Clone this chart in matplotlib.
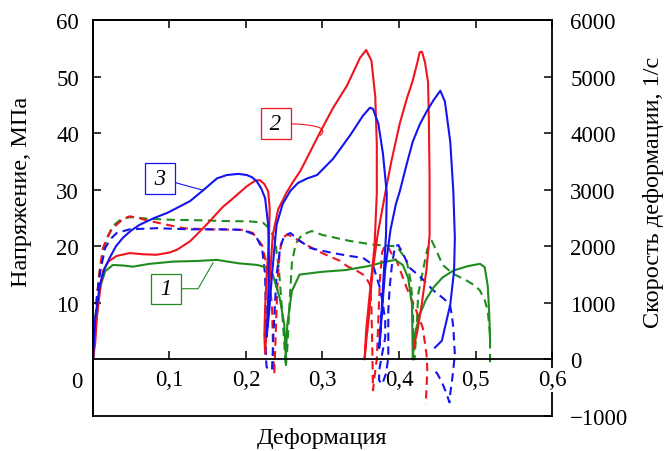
import matplotlib
matplotlib.use("Agg")
import matplotlib.pyplot as plt

# strain (x) and stress, MPa (left axis) / strain rate, 1/s (right axis)
green_eps = [0, 0.003, 0.009, 0.016, 0.026, 0.04, 0.052, 0.074, 0.105, 0.135, 0.162, 0.19, 0.215,
             0.228, 0.235, 0.244, 0.25, 0.252, 0.254, 0.26, 0.27, 0.3, 0.33, 0.36, 0.38, 0.395,
             0.405, 0.412, 0.417, 0.418, 0.42, 0.427, 0.435, 0.445, 0.457, 0.471, 0.49, 0.506,
             0.512, 0.516, 0.518, 0.519]
green_sig = [0, 5, 12.7, 15.6, 16.7, 16.6, 16.4, 16.9, 17.3, 17.4, 17.6, 17.0, 16.7,
             16.2, 15, 10.9, 6.2, 0.3, 6.2, 12.1, 15, 15.5, 15.8, 16.5, 17.2, 17.6,
             16.7, 14.4, 9.7, 0, 4, 7.9, 10.5, 12.7, 14.5, 15.7, 16.5, 16.9,
             16.3, 13, 8, 3.5]
green_rate_eps = [0, 0.003, 0.008, 0.015, 0.025, 0.037, 0.048, 0.07, 0.1, 0.14, 0.175, 0.205, 0.222,
                  0.232, 0.238, 0.243, 0.247, 0.25, 0.252, 0.254, 0.257, 0.26, 0.265, 0.273, 0.286,
                  0.3, 0.336, 0.366, 0.385, 0.397, 0.405, 0.41, 0.415, 0.418, 0.419, 0.42, 0.423,
                  0.425, 0.432, 0.437, 0.443, 0.448, 0.457, 0.47, 0.489, 0.5, 0.506, 0.512, 0.516,
                  0.519, 0.519, 0.519]
green_rate = [0, 700, 1500, 2000, 2350, 2480, 2516, 2490, 2470, 2460, 2446, 2440, 2420,
              2300, 2100, 1600, 900, 300, -140, 200, 1000, 1700, 2050, 2200, 2270,
              2200, 2094, 2030, 2010, 2000, 1850, 1742, 1400, 1000, 300, 0, 500,
              1144, 1619, 1950, 2094, 1950, 1672, 1520, 1390, 1300, 1214, 1050, 862,
              440, 0, -140]

red_eps = [0, 0.003, 0.005, 0.009, 0.013, 0.02, 0.031, 0.048, 0.065, 0.083, 0.1, 0.11, 0.127,
           0.144, 0.153, 0.17, 0.179, 0.19, 0.201, 0.212, 0.218, 0.224, 0.229, 0.231, 0.23,
           0.227, 0.225, 0.224, 0.225, 0.229, 0.235, 0.242, 0.253, 0.262, 0.271, 0.285, 0.297,
           0.314, 0.332, 0.349, 0.357, 0.364, 0.369, 0.371, 0.371, 0.368, 0.362, 0.357, 0.355,
           0.357, 0.361, 0.365, 0.372, 0.382, 0.39, 0.401, 0.41, 0.418, 0.424, 0.427, 0.43,
           0.434, 0.438, 0.439, 0.44, 0.44, 0.436, 0.43, 0.424, 0.419]
red_sig = [0, 3, 7.4, 12, 15.6, 17.3, 18.3, 18.8, 18.6, 18.5, 18.9, 19.4, 20.9,
           23.2, 24.5, 27, 28, 29.3, 30.6, 31.6, 31.7, 31.0, 29.7, 26.7, 21,
           15, 9.1, 4.4, 1, 10, 22, 26.5, 29.5, 31.5, 33.3, 37, 40.2,
           44.5, 48.4, 53.3, 54.7, 52.8, 46.4, 38, 29.4, 20, 12, 5, 0,
           3, 8, 15, 22, 29.4, 35, 41.7, 46, 49.3, 52.5, 54.3, 54.4,
           52.5, 49, 42.6, 32, 22, 16, 10, 5, 2]
red_rate_eps = [0, 0.003, 0.005, 0.009, 0.013, 0.02, 0.026, 0.039, 0.048, 0.06, 0.07, 0.097, 0.118,
                0.149, 0.175, 0.196, 0.209, 0.221, 0.227, 0.231, 0.234, 0.235, 0.236, 0.237, 0.239,
                0.241, 0.244, 0.248, 0.254, 0.262, 0.27, 0.293, 0.323, 0.332, 0.345, 0.353, 0.358,
                0.362, 0.364, 0.365, 0.366, 0.368, 0.371, 0.373, 0.375, 0.378, 0.382, 0.386, 0.391,
                0.397, 0.41, 0.421, 0.431, 0.436, 0.437, 0.435]
red_rate = [0, 500, 1090, 1600, 1970, 2200, 2320, 2480, 2530, 2500, 2460, 2380, 2320,
            2300, 2295, 2290, 2235, 2020, 1670, 1300, 970, 390, 0, -260, 500,
            1300, 1900, 2150, 2210, 2160, 2094, 1918, 1742, 1650, 1566, 1500, 1420,
            1320, 900, 264, -545, -300, 0, 700, 1400, 1900, 2024, 1980, 1850,
            1742, 1267, 915, 563, 88, -194, -790]

blue_eps = [0, 0.003, 0.009, 0.015, 0.022, 0.03, 0.039, 0.05, 0.061, 0.08, 0.097, 0.11, 0.127,
            0.144, 0.162, 0.175, 0.19, 0.201, 0.208, 0.214, 0.22, 0.225, 0.229, 0.23, 0.229,
            0.227, 0.23, 0.234, 0.24, 0.248, 0.258, 0.268, 0.28, 0.293, 0.314, 0.336, 0.353,
            0.362, 0.366, 0.373, 0.379, 0.384, 0.383, 0.38, 0.377, 0.374, 0.375, 0.378, 0.382,
            0.389, 0.396, 0.401, 0.41, 0.418, 0.427, 0.436, 0.445, 0.454, 0.46, 0.467, 0.471,
            0.473, 0.472, 0.467, 0.456, 0.447]
blue_sig = [0, 7.4, 13.2, 16, 18, 20, 21.5, 22.8, 23.8, 25, 25.9, 26.8, 28,
            29.9, 32, 32.6, 32.8, 32.6, 32.2, 31.5, 30.2, 28.5, 23.8, 18, 10,
            4, 8, 15, 23.8, 27.5, 29.8, 31.2, 32, 32.6, 35.5, 39.6, 43.1,
            44.5, 44.3, 41.7, 36.4, 29.4, 22, 15, 8, 2, 3, 9, 16,
            23, 27.5, 29.7, 34.5, 38.5, 41.5, 43.8, 45.8, 47.5, 45.6, 38.5, 29.7,
            21.5, 15.7, 9.7, 3.3, 2.1]
blue_rate_eps = [0, 0.003, 0.005, 0.01, 0.016, 0.023, 0.031, 0.048, 0.083, 0.127, 0.175, 0.196,
                 0.212, 0.221, 0.225, 0.226, 0.226, 0.227, 0.234, 0.236, 0.24, 0.245, 0.25, 0.258,
                 0.27, 0.284, 0.3, 0.314, 0.335, 0.353, 0.366, 0.375, 0.379, 0.382, 0.382, 0.378,
                 0.374, 0.374, 0.378, 0.383, 0.386, 0.386, 0.388, 0.391, 0.395, 0.399, 0.404,
                 0.414, 0.427, 0.436, 0.444, 0.457, 0.463, 0.467, 0.469, 0.471, 0.473, 0.47,
                 0.467, 0.466, 0.462, 0.456, 0.45, 0.446]
blue_rate = [0, 500, 1090, 1600, 1970, 2130, 2235, 2300, 2320, 2300, 2300, 2290,
             2200, 1970, 1500, 800, 35, -140, -190, 500, 1500, 2000, 2180, 2235,
             2100, 1970, 1920, 1880, 1830, 1795, 1670, 1267, 970, 690, 390, 100,
             -200, -370, -440, -250, 35, 860, 1300, 1700, 2000, 2024, 1900,
             1620, 1470, 1350, 1230, 1090, 1020, 940, 790, 563, 88, -300,
             -600, -760, -600, -400, -250, -190]

x_ticks = [0.1, 0.2, 0.3, 0.4, 0.5, 0.6]
x_tick_labels = ["0,1", "0,2", "0,3", "0,4", "0,5", "0,6"]
sig_ticks = [10, 20, 30, 40, 50, 60]
rate_ticks = [-1000, 0, 1000, 2000, 3000, 4000, 5000, 6000]

RED = "#f0141e"
BLUE = "#1414f0"
GREEN = "#1e8c1e"
dash = (0, (4, 2.6))

plt.rcParams["font.family"] = ["Liberation Serif", "DejaVu Serif"]
plt.rcParams["font.size"] = 16.5

fig = plt.figure(figsize=(6.67, 4.52), dpi=100)
ax = fig.add_axes([0.1394, 0.0774, 0.6882, 0.8761])
ax2 = ax.twinx()

lw = 1.5
ax.plot(green_eps, green_sig, color=GREEN, lw=lw)
ax.plot(red_eps, red_sig, color=RED, lw=lw)
ax.plot(blue_eps, blue_sig, color=BLUE, lw=lw)
ax2.plot(green_rate_eps, green_rate, color=GREEN, lw=lw, ls=dash)
ax2.plot(red_rate_eps, red_rate, color=RED, lw=lw, ls=dash)
ax2.plot(blue_rate_eps, blue_rate, color=BLUE, lw=lw, ls=dash)

ax.set_xlim(0, 0.6)
ax.set_ylim(-10, 60)
ax2.set_ylim(-1000, 6000)

# x axis runs along zero of both y scales
ax.spines["bottom"].set_position(("data", 0))
ax.spines["right"].set_visible(False)
for sp in ax.spines.values():
    sp.set_linewidth(1.3)
for sp in ax2.spines.values():
    sp.set_linewidth(1.3)

ax.set_xticks(x_ticks)
ax.set_xticklabels(x_tick_labels)
ax.set_yticks(sig_ticks)
ax2.set_yticks(rate_ticks)
ax2.set_yticklabels([str(v).replace("-", "\u2212") for v in rate_ticks])

ax.tick_params(axis="x", direction="in", top=True, length=6, width=1.1, pad=7)
ax.tick_params(axis="y", direction="in", length=6, width=1.1, pad=10)
ax2.tick_params(axis="y", direction="in", length=6, width=1.1, pad=13)
ax.xaxis.set_zorder(3)
ax.get_xticklabels()[-1].set_bbox(dict(facecolor="white", edgecolor="none", pad=1))

# put the stress axis (with x labels) above the rate axis
ax.set_zorder(ax2.get_zorder() + 1)
ax.patch.set_visible(False)

ax.annotate("0", xy=(0, 0), xycoords="data", xytext=(-12, -16), textcoords="offset points",
            ha="center", va="center")

ax.set_xlabel("Деформация", fontsize=17.5, va="top")
ax.xaxis.set_label_coords(0.5, -0.027)
ax.set_ylabel("Напряжение, МПа", fontsize=17.5)
ax.yaxis.set_label_coords(-0.133, 0.568)
ax2.set_ylabel("Скорость деформации, 1/с", fontsize=17.5)
ax2.yaxis.set_label_coords(1.198, 0.568)

# curve labels
box = dict(boxstyle="square,pad=0.2", facecolor="white", lw=0.9)
ts = "\u2009"
ax.annotate(ts + "3" + ts, xy=(0.144, 29.9), xytext=(0.0876, 32.0), fontstyle="italic",
            ha="center", va="center", bbox=dict(box, edgecolor=BLUE),
            arrowprops=dict(arrowstyle="-", color=BLUE, lw=0.8, shrinkA=0, shrinkB=0))
ax.annotate(ts + "2" + ts, xy=(0.297, 39.6), xytext=(0.239, 41.7), fontstyle="italic",
            ha="center", va="center", bbox=dict(box, edgecolor=RED),
            arrowprops=dict(arrowstyle="-", color=RED, lw=0.8, shrinkA=0, shrinkB=0,
                            connectionstyle="angle3,angleA=0,angleB=40"))
ax.annotate(ts + "1" + ts, xy=(0.157, 17.1), xytext=(0.0954, 12.5), fontstyle="italic",
            ha="center", va="center", bbox=dict(box, edgecolor=GREEN),
            arrowprops=dict(arrowstyle="-", color=GREEN, lw=0.8, shrinkA=0, shrinkB=0,
                            connectionstyle="angle,angleA=0,angleB=60,rad=0"))

fig.savefig("out.png", dpi=100)
